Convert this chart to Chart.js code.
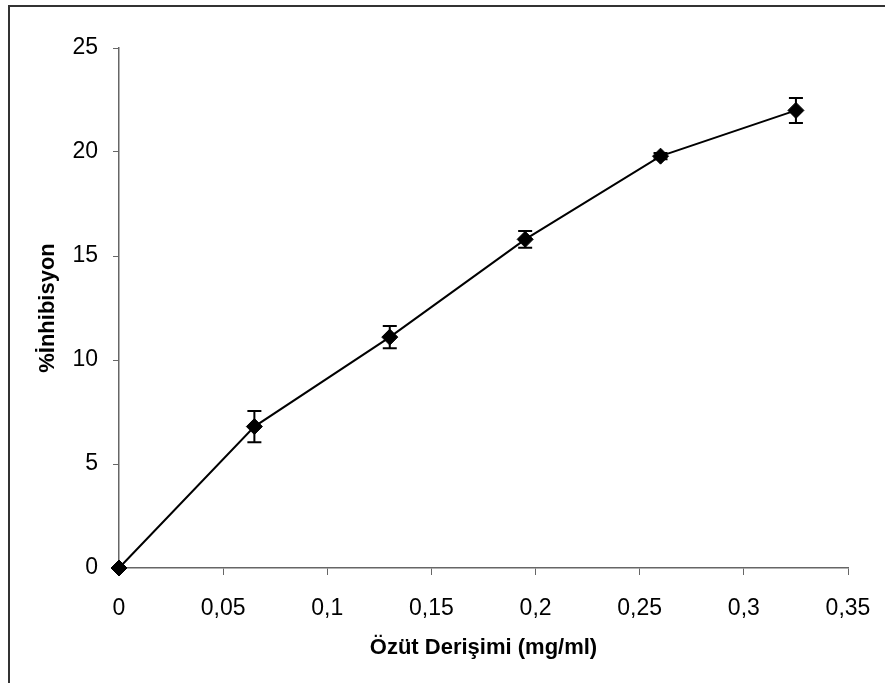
<!DOCTYPE html>
<html>
<head>
<meta charset="utf-8">
<script src="https://cdn.jsdelivr.net/npm/chart.js"></script>
<style>
  html, body { margin: 0; padding: 0; background: #fff; }
  #wrap { width: 885px; height: 683px; position: relative; }
</style>
</head>
<body>
<div id="wrap"><canvas id="lineChart" width="885" height="683"></canvas></div>
<script>
// extract concentration (mg/ml) and % inhibition, with standard deviations
const concentrations = [0, 0.065, 0.13, 0.195, 0.26, 0.325];
const inhibition     = [0, 6.8, 11.1, 15.8, 19.8, 22.0];
const errors         = [0, 0.75, 0.53, 0.4, 0.15, 0.6];

const xTickLabels = ['0', '0,05', '0,1', '0,15', '0,2', '0,25', '0,3', '0,35'];
const yTickLabels = ['0', '5', '10', '15', '20', '25'];

const xTitle = 'Özüt Derişimi (mg/ml)';
const yTitle = '%İnhibisyon';

const fontFamily = '"Liberation Sans", Arial, sans-serif';

// outer frame of the original figure (only top and left edges visible)
const framePlugin = {
  id: 'frame',
  beforeDraw(chart) {
    const ctx = chart.ctx;
    ctx.save();
    ctx.fillStyle = '#fff';
    ctx.fillRect(0, 0, chart.width, chart.height);
    ctx.fillStyle = '#333';
    ctx.fillRect(8, 5, chart.width - 8, 2);
    ctx.fillRect(8, 5, 2, chart.height - 5);
    ctx.restore();
  }
};

// vertical error bars with caps
const errorBarPlugin = {
  id: 'errorBars',
  afterDatasetsDraw(chart) {
    const ctx = chart.ctx;
    const xs = chart.scales.x, ys = chart.scales.y;
    ctx.save();
    ctx.strokeStyle = '#000';
    ctx.lineWidth = 2;
    concentrations.forEach((c, i) => {
      if (!errors[i]) return;
      const px = xs.getPixelForValue(c);
      const top = ys.getPixelForValue(inhibition[i] + errors[i]);
      const bot = ys.getPixelForValue(inhibition[i] - errors[i]);
      ctx.beginPath();
      ctx.moveTo(px, top); ctx.lineTo(px, bot);
      ctx.moveTo(px - 7, top); ctx.lineTo(px + 7, top);
      ctx.moveTo(px - 7, bot); ctx.lineTo(px + 7, bot);
      ctx.stroke();
    });
    ctx.restore();
  }
};

const ctx = document.getElementById('lineChart').getContext('2d');

new Chart(ctx, {
  type: 'scatter',
  data: {
    datasets: [{
      data: concentrations.map((c, i) => ({ x: c, y: inhibition[i] })),
      showLine: true,
      clip: false,
      borderColor: '#000',
      borderWidth: 2,
      backgroundColor: '#000',
      pointStyle: 'rectRot',
      pointRadius: 8,
      pointBorderWidth: 1,
      pointBorderColor: '#000',
      pointBackgroundColor: '#000'
    }]
  },
  options: {
    responsive: false,
    animation: false,
    layout: { padding: { top: 48, right: 37, left: 0, bottom: 0 } },
    plugins: {
      legend: { display: false },
      tooltip: { enabled: false }
    },
    scales: {
      x: {
        type: 'linear',
        min: 0,
        max: 0.35,
        afterFit: s => { s.height = 115; s.paddingRight = 0; s.paddingLeft = 0; },
        afterBuildTicks: s => { s.ticks = xTickLabels.map((t, i) => ({ value: i * 0.05 })); },
        grid: { drawOnChartArea: false, tickLength: 7, color: '#666', lineWidth: 1 },
        border: { color: '#666', width: 1.5 },
        ticks: {
          callback: (v, i) => xTickLabels[i],
          color: '#000',
          padding: 20,
          maxRotation: 0,
          font: { family: fontFamily, size: 23 }
        },
        title: {
          display: true,
          text: xTitle,
          color: '#000',
          padding: { top: 0, bottom: 22 },
          font: { family: fontFamily, size: 22, weight: 'bold' }
        }
      },
      y: {
        type: 'linear',
        min: 0,
        max: 25,
        afterFit: s => { s.width = 119; s.paddingTop = 0; s.paddingBottom = 0; },
        afterBuildTicks: s => { s.ticks = yTickLabels.map((t, i) => ({ value: i * 5 })); },
        grid: { drawOnChartArea: false, tickLength: 6, color: '#666', lineWidth: 1 },
        border: { color: '#666', width: 1.5 },
        ticks: {
          callback: (v, i) => yTickLabels[i],
          color: '#000',
          padding: 15,
          font: { family: fontFamily, size: 23 }
        },
        title: {
          display: true,
          text: yTitle,
          color: '#000',
          padding: { top: 35, bottom: 0 },
          font: { family: fontFamily, size: 22, weight: 'bold' }
        }
      }
    }
  },
  plugins: [framePlugin, errorBarPlugin]
});
</script>
</body>
</html>
